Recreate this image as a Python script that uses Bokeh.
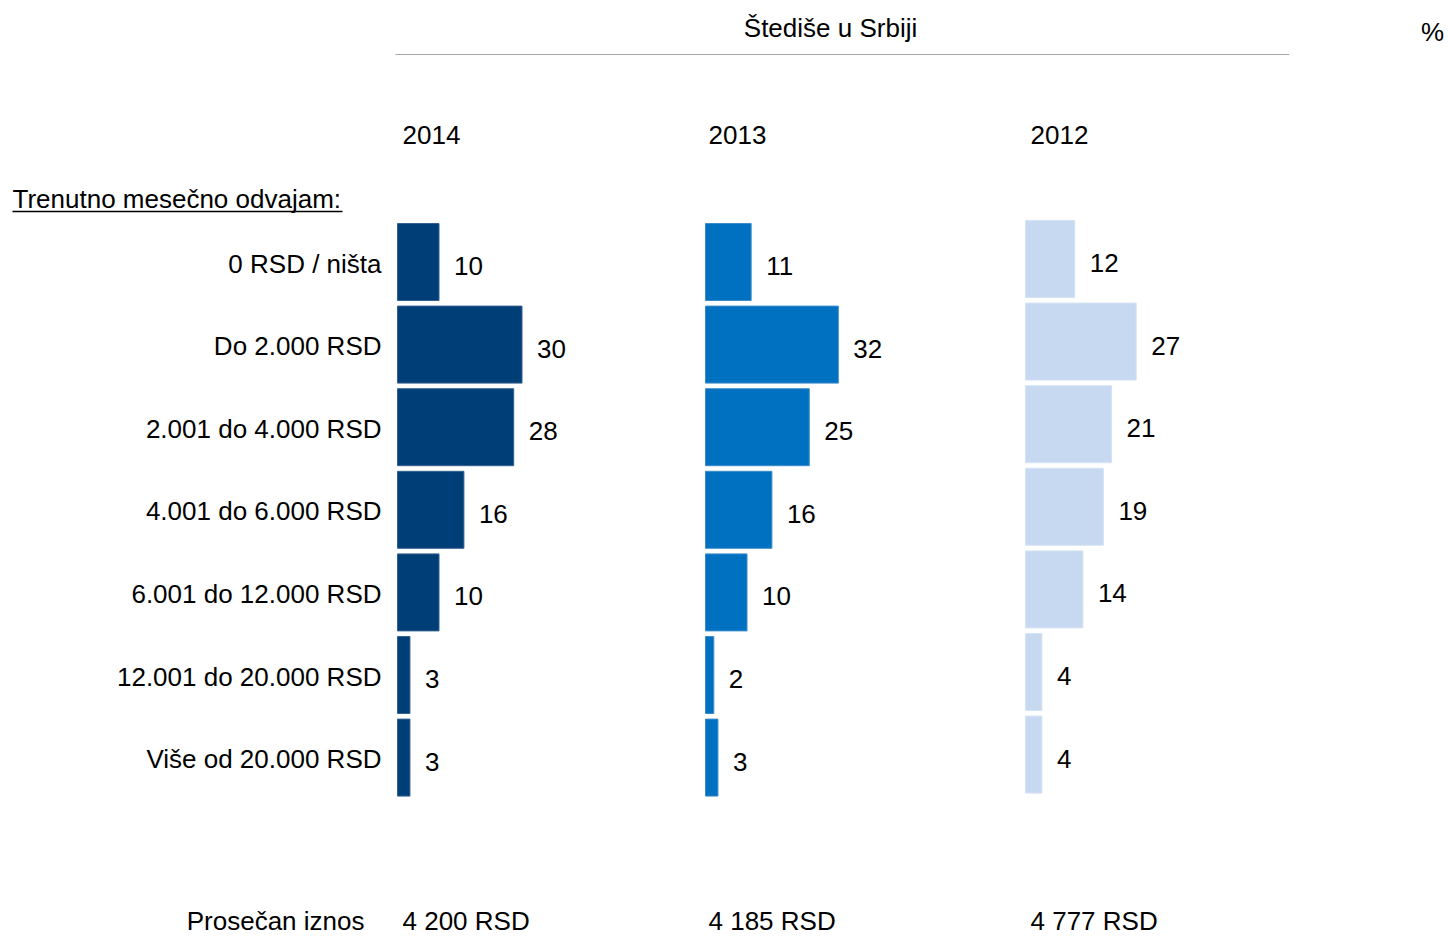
from bokeh.plotting import figure
from bokeh.models import Range1d, ColumnDataSource
from bokeh.core.properties import value
from bokeh.embed import file_html
from bokeh.resources import INLINE

# ---- data ----
title = "Štediše u Srbiji"
section_label = "Trenutno mesečno odvajam:"
categories = ["0 RSD / ništa", "Do 2.000 RSD", "2.001 do 4.000 RSD", "4.001 do 6.000 RSD",
              "6.001 do 12.000 RSD", "12.001 do 20.000 RSD", "Više od 20.000 RSD"]
years = ["2014", "2013", "2012"]
v2014 = [10, 30, 28, 16, 10, 3, 3]
v2013 = [11, 32, 25, 16, 10, 2, 3]
v2012 = [12, 27, 21, 19, 14, 4, 4]
avg_label = "Prosečan iznos"
averages = ["4 200 RSD", "4 185 RSD", "4 777 RSD"]

# ---- layout / style ----
FONT = value("Liberation Sans")
FS = "26px"
W, H = 1448, 938
panel_left = [397, 705, 1025]
panel_text_x = [402, 708, 1030]
panel_dy = [0, 0, -3]
panel_scale = [4.15, 4.15, 4.1]
colors = ["#003E78", "#0070C0", "#C6D9F1"]
edges = ["#34618F", "#3A8CCB", "#D6E3F4"]
row0, row_step, bar_h = 261.5, 82.6, 77

p = figure(width=W, height=H, output_backend="svg", toolbar_location=None,
           x_range=Range1d(0, W), y_range=Range1d(H, 0),
           min_border=0, outline_line_color=None)
p.xaxis.visible = False
p.yaxis.visible = False
p.xgrid.visible = False
p.ygrid.visible = False
p.background_fill_color = "white"

def txt(x, y, t, align="left", **kw):
    p.text(x=x, y=y, text=t, text_font=FONT, text_font_size=FS,
           text_align=align, text_baseline="middle", text_color="black", **kw)

# title + rule
txt([830], [27], [title], "center")
p.segment(x0=[395], y0=[54], x1=[1289], y1=[54], line_color="#A6A6A6", line_width=1)
txt([1432], [31], ["%"], "center")

# section label with underline
txt([12], [198], [section_label])
p.segment(x0=[12], y0=[211], x1=[342], y1=[211], line_color="black", line_width=1.3)

rows = list(range(len(categories)))
ys = [row0 + i * row_step for i in rows]

# category labels
txt([381] * len(categories), [y + 1.5 for y in ys], categories, "right")

series = [v2014, v2013, v2012]
for k, vals in enumerate(series):
    left = panel_left[k]
    sc = panel_scale[k]
    yy = [y + panel_dy[k] for y in ys]
    src = ColumnDataSource(dict(
        y=yy,
        left=[left] * len(vals),
        right=[left + v * sc for v in vals],
        lx=[left + v * sc + 15 for v in vals],
        ly=[y + 4 for y in yy],
        lab=[str(v) for v in vals],
    ))
    p.hbar(y="y", left="left", right="right", height=bar_h, source=src,
           fill_color=colors[k], line_color=edges[k], line_width=1)
    p.text(x="lx", y="ly", text="lab", source=src, text_font=FONT,
           text_font_size=FS, text_align="left", text_baseline="middle",
           text_color="black")
    txt([panel_text_x[k]], [134], [years[k]])
    txt([panel_text_x[k]], [920], [averages[k]])

txt([364], [920], [avg_label], "right")

open("out.html", "w").write(file_html(p, INLINE))
